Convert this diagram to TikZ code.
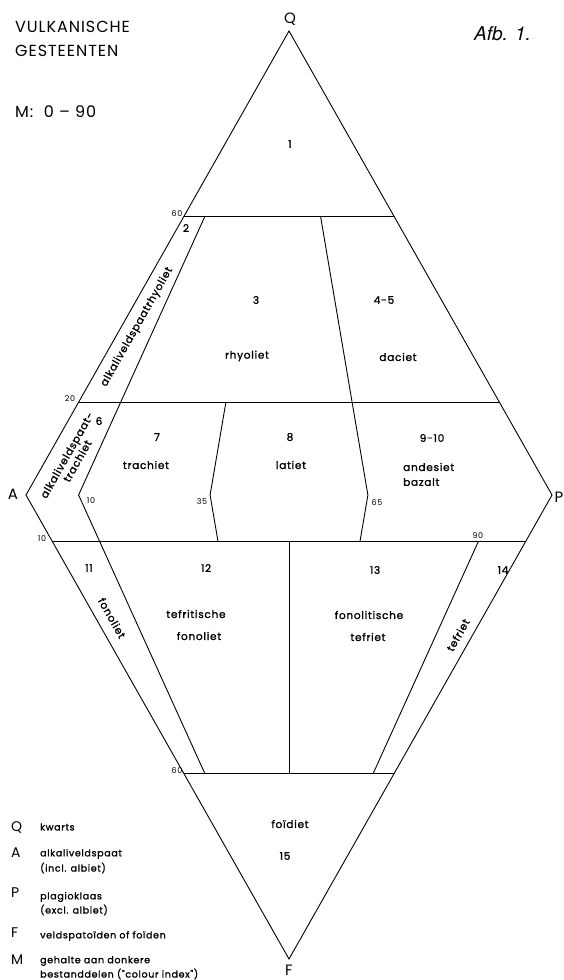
\documentclass[tikz,border=0pt]{standalone}
\usepackage{fontspec}
\newfontfamily\lett[LetterSpace=6]{Poppins}
\newfontfamily\lettb[LetterSpace=7,FakeBold=1.3]{Poppins}
\newfontfamily\helv{TeX Gyre Heros}
\tikzset{
  edge/.style={line width=0.9pt, line join=miter},
  hline/.style={line width=1.4pt},
  capt/.style={font=\lett\fontsize{16}{18}\selectfont, inner sep=0pt},
  vert/.style={font=\lett\fontsize{15}{17}\selectfont, inner sep=0pt},
  fld/.style={font=\lettb\fontsize{10.5}{12}\selectfont, inner sep=0pt},
  smalln/.style={font=\lett\fontsize{8}{9}\selectfont, inner sep=0pt},
  legl/.style={font=\lett\fontsize{14}{16}\selectfont, inner sep=0pt, anchor=west},
  legt/.style={font=\lettb\fontsize{9.5}{11}\selectfont, inner sep=0pt, anchor=west},
}
\begin{document}
\begin{tikzpicture}[x=1pt, y=-1pt]
\useasboundingbox (0,0) rectangle (564,980);
% vertices
\coordinate (Q) at (289,31);
\coordinate (A) at (26,495);
\coordinate (P) at (552,495);
\coordinate (F) at (289,959);
% horizontal lines
\coordinate (q60l) at (183.8,216.6);  \coordinate (q60r) at (394.2,216.6);
\coordinate (q20l) at (78.6,402.2);   \coordinate (q20r) at (499.4,402.2);
\coordinate (f10l) at (52.3,541.4);   \coordinate (f10r) at (525.7,541.4);
\coordinate (f60l) at (183.8,773.4);  \coordinate (f60r) at (394.2,773.4);
% 10 line
\coordinate (a10t) at (204.8,216.6);
\coordinate (a10m) at (78.6,495);
\coordinate (a10b) at (204.8,773.4);
% 65 line
\coordinate (p65t) at (320.6,216.6);
\coordinate (p65m) at (352.1,402.2);
\coordinate (p65ap) at (367.9,495);
\coordinate (p65f) at (360,541.4);
% 35 line
\coordinate (p35t) at (225.9,402.2);
\coordinate (p35ap) at (210.1,495);
\coordinate (p35f) at (218,541.4);
% 50 line
\coordinate (m50t) at (289,541.4);
\coordinate (m50b) at (289,773.4);
% 90 line
\coordinate (p90t) at (478.4,541.4);
\coordinate (p90b) at (373.2,773.4);

\draw[edge] (Q) -- (A) -- (F) -- (P) -- cycle;
\draw[hline] (q60l) -- (q60r);
\draw[hline] (q20l) -- (q20r);
\draw[hline] (f10l) -- (f10r);
\draw[hline] (f60l) -- (f60r);
\draw[edge] (a10t) -- (a10m) -- (a10b);
\draw[edge] (p65t) -- (p65m) -- (p65ap) -- (p65f);
\draw[edge] (p35t) -- (p35ap) -- (p35f);
\draw[edge] (m50t) -- (m50b);
\draw[edge] (p90t) -- (p90b);

% vertex labels
\node[vert] (lQ) at (290,19) {Q};
\node[vert] (lA) at (13,494) {A};
\node[vert] (lP) at (559,497) {P};
\node[vert] (lF) at (289,970) {F};

% title
\node[capt, anchor=west] (t1) at (15,27) {VULKANISCHE};
\node[capt, anchor=west] (t2) at (15,51) {GESTEENTEN};
\node[capt, anchor=west] (t3) at (15,112) {M:\ \ 0 – 90};
\node[font=\helv\itshape\fontsize{19}{21}\selectfont, inner sep=0pt, anchor=west] (afb) at (474,34) {Afb. 1.};

% small numbers
\node[smalln] (n60a) at (177,214) {60};
\node[smalln] (n20) at (70,399) {20};
\node[smalln] (n10a) at (42,539) {10};
\node[smalln] (n10b) at (91,501) {10};
\node[smalln] (n35) at (202,502) {35};
\node[smalln] (n65) at (377,503) {65};
\node[smalln] (n90) at (478,536) {90};
\node[smalln] (n60b) at (177,771) {60};

% field labels
\node[fld] (f1) at (290,144) {1};
\node[fld] (f2) at (186,228) {2};
\node[fld] (f3) at (256,300) {3};
\node[fld] (rhy) at (247,356) {rhyoliet};
\node[fld] (f45) at (384,300) {4-5};
\node[fld] (dac) at (398,357) {daciet};
\node[fld, rotate=60.5] (akr) at (137,327) {alkaliveldspaatrhyoliet};
\node[fld] (f6) at (99,421) {6};
\node[fld, rotate=60.5, align=center] (akt) at (72,458) {alkaliveldspaat-\\trachiet};
\node[fld] (f7) at (157,437) {7};
\node[fld] (tra) at (146,465) {trachiet};
\node[fld] (f8) at (290,437) {8};
\node[fld] (lat) at (291,465) {latiet};
\node[fld] (f910) at (432,438) {9-10};
\node[fld, anchor=west] (and) at (403,467) {andesiet};
\node[fld, anchor=west] (baz) at (403,482) {bazalt};
\node[fld] (f11) at (89,568) {11};
\node[fld] (f12) at (206,568) {12};
\node[fld] (f13) at (375,570) {13};
\node[fld] (f14) at (503,570) {14};
\node[fld, rotate=-60.5] (fon) at (112,618) {fonoliet};
\node[fld] (tef1) at (196,614) {tefritische};
\node[fld] (tef2) at (199,636) {fonoliet};
\node[fld] (fon1) at (369,615) {fonolitische};
\node[fld] (fon2) at (368,637) {tefriet};
\node[fld, rotate=60.5] (tef) at (458,635) {tefriet};
\node[fld] (foi) at (290,824) {foïdiet};
\node[fld] (f15) at (285,856) {15};

% legend
\node[legl] (gQ) at (11,827) {Q};
\node[legt] (gQt) at (40,827) {kwarts};
\node[legl] (gA) at (11,853) {A};
\node[legt] (gAt1) at (40,854) {alkaliveldspaat};
\node[legt] (gAt2) at (40,868) {(incl. albiet)};
\node[legl] (gP) at (11,893) {P};
\node[legt] (gPt1) at (40,897) {plagioklaas};
\node[legt] (gPt2) at (40,910) {(excl. albiet)};
\node[legl] (gF) at (11,933) {F};
\node[legt] (gFt) at (40,936) {veldspatoïden of foïden};
\node[legl] (gM) at (11,960) {M};
\node[legt] (gMt1) at (40,961) {gehalte aan donkere};
\node[legt] (gMt2) at (40,974) {bestanddelen ("colour index")};
\end{tikzpicture}
\end{document}
